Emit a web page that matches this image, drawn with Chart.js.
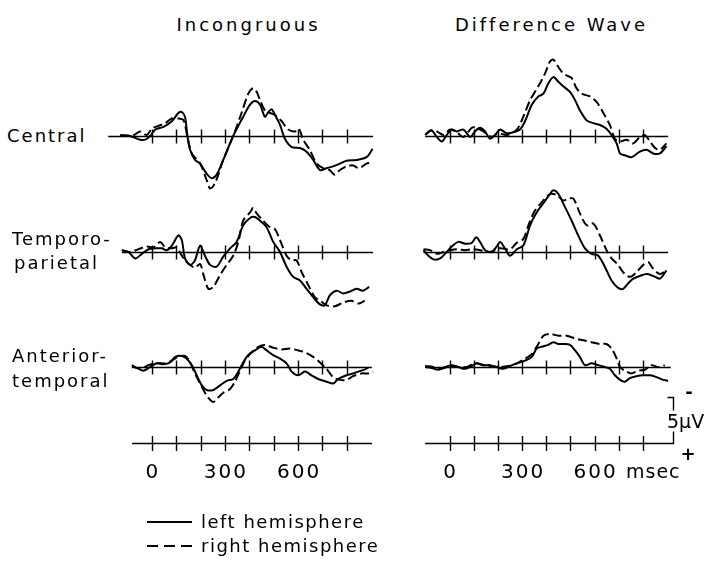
<!DOCTYPE html>
<html><head><meta charset="utf-8">
<script src="https://cdn.jsdelivr.net/npm/chart.js@4/dist/chart.umd.min.js"></script>
<style>
html,body{margin:0;padding:0;background:#fff;}
body{width:714px;height:561px;position:relative;overflow:hidden;font-family:"DejaVu Sans",sans-serif;color:#000;}
canvas{position:absolute;}
.t{position:absolute;white-space:nowrap;line-height:1;}
.c{transform:translate(-50%,-50%);}
.v{transform:translateY(-50%);}
</style></head><body>
<script>
// ---------- DATA (time in ms, amplitude in microvolts; negative plotted up) ----------
const columnTitles = ['Incongruous', 'Difference Wave'];
const rowLabels = [['Central'], ['Temporo-', 'parietal'], ['Anterior-', 'temporal']];
const timeTicksMs = [0, 100, 200, 300, 400, 500, 600, 700, 800];
const timeTickLabels = [0, 300, 600];
const timeUnit = 'msec';
const scaleBarUV = 5;
const legendLabels = ['left hemisphere', 'right hemisphere'];

// Central
const centralIncLeft = [[-130,-0.1],[-89,0],[-48,0.4],[-27,0.4],[-7,0],[14,-0.7],[48,-1.0],[82,-1.6],[109,-2.5],[123,-2.6],[136,-2.1],[146,0],[157,1.5],[177,2.6],[198,3.0],[225,4.1],[246,4.6],[266,4.2],[293,2.6],[334,0],[375,-2.1],[403,-3.4],[423,-3.8],[444,-3.4],[464,-2.1],[478,-2.6],[492,-2.9],[505,-2.3],[526,-1.2],[546,0.3],[574,1.2],[608,1.3],[635,1.7],[662,2.6],[690,3.7],[717,3.5],[744,3.3],[772,3.0],[799,2.7],[840,2.6],[881,2.3],[906,1.4]];
const centralIncRight = [[-130,0],[-75,-0.1],[-48,-0.5],[-21,-0.1],[0,-0.8],[27,-1.1],[55,-1.4],[82,-1.9],[109,-1.9],[130,-1.7],[146,0.1],[164,1.9],[198,3.0],[225,4.8],[239,5.7],[260,5.1],[293,2.6],[334,0],[368,-2.5],[396,-4.6],[416,-5.2],[430,-4.8],[444,-3.9],[464,-2.8],[485,-2.5],[505,-2.3],[533,-1.6],[560,-0.7],[587,-0.5],[603,-0.8],[621,0.4],[648,1.5],[676,3.0],[703,3.5],[730,3.7],[750,4.2],[772,3.7],[799,3.3],[826,3.2],[850,3.5],[881,3.0],[908,2.8]];
const centralDiffLeft = [[-94,-0.3],[-74,-0.6],[-53,0.1],[-32,0.6],[-12,-0.1],[9,-0.7],[30,-0.5],[57,-0.7],[85,0.1],[105,-0.5],[126,-0.9],[147,-0.5],[167,0.3],[188,-0.1],[209,-0.7],[236,-0.3],[264,-0.4],[291,-0.7],[312,-1.6],[340,-3.4],[367,-4.3],[388,-4.6],[408,-5.7],[429,-6.4],[450,-5.9],[470,-5.4],[498,-4.8],[519,-3.9],[539,-2.8],[567,-1.7],[594,-1.4],[622,-1.2],[649,-0.8],[670,-0.1],[691,0.8],[705,1.9],[725,2.1],[752,2.3],[787,1.7],[815,1.5],[842,1.9],[870,1.9],[897,1.1]];
const centralDiffRight = [[-101,-0.1],[-80,-0.6],[-53,-0.5],[-25,-0.1],[2,-0.7],[30,-0.4],[57,0.1],[92,-0.9],[112,-0.9],[140,-0.5],[174,0.1],[202,-0.3],[236,-0.1],[278,-0.7],[305,-2.1],[333,-3.9],[367,-5.4],[395,-6.8],[415,-8.1],[429,-8.3],[450,-7.5],[470,-6.8],[491,-6.5],[505,-6.3],[525,-5.2],[546,-4.6],[581,-4.3],[608,-3.7],[636,-2.5],[663,-1.2],[684,0.3],[705,0.6],[732,0.4],[760,0.8],[787,0.1],[808,-0.1],[829,0.6],[850,1.3],[870,1.5],[897,0.8]];

// Temporo-parietal
const tpIncLeft = [[-123,-0.2],[-96,0],[-68,0.7],[-41,0.2],[-14,-0.3],[14,-0.4],[41,-0.4],[61,-0.2],[82,-0.7],[109,-1.8],[123,-1.3],[136,0.7],[157,1.4],[177,0.9],[198,-0.7],[218,0.4],[239,1.4],[266,1.6],[293,0.5],[321,-0.4],[348,-1.1],[375,-2.9],[403,-3.7],[423,-3.8],[444,-3.4],[471,-2.7],[498,-1.1],[526,0],[553,1.6],[580,2.7],[608,3.1],[635,4.0],[662,4.9],[690,5.7],[710,5.8],[731,4.7],[758,4.2],[785,4.5],[813,4.3],[840,4.0],[867,4.2],[892,3.8]];
const tpIncRight = [[-123,-0.2],[-89,0],[-55,-0.3],[-21,-0.6],[7,-0.5],[34,-1.1],[55,-0.5],[82,-0.4],[102,-0.5],[123,0.4],[143,1.1],[177,1.7],[198,1.3],[211,2.4],[232,4.0],[252,3.8],[280,2.5],[307,1.4],[334,0.4],[355,-1.1],[375,-3.4],[403,-4.3],[416,-4.8],[430,-4.2],[457,-3.4],[485,-2.7],[505,-2.5],[526,-1.3],[553,0.4],[574,0.9],[594,0.9],[615,2.2],[642,3.6],[669,4.9],[696,5.4],[717,5.8],[751,5.9],[785,5.5],[819,5.3],[847,5.6],[874,5.3]];
const tpDiffLeft = [[-108,-0.2],[-88,0.4],[-67,0.8],[-39,0.7],[-12,0],[9,-0.6],[36,-1.1],[64,-0.9],[92,-1.0],[110,-1.6],[126,-1.1],[147,-0.2],[174,0],[195,-0.6],[209,-1.1],[229,-0.4],[250,0.4],[278,-0.3],[305,-0.7],[333,-2.9],[360,-4.3],[388,-5.3],[415,-6.3],[429,-6.7],[450,-6.3],[477,-4.9],[505,-3.4],[532,-1.8],[560,-0.4],[587,0.2],[615,0.4],[642,1.6],[670,3.1],[697,3.9],[718,4.0],[739,3.4],[760,2.9],[787,2.6],[815,2.4],[842,2.6],[870,2.9],[897,2.0]];
const tpDiffRight = [[-108,-0.3],[-81,-0.2],[-53,0.2],[-25,0],[2,-0.2],[30,-0.3],[64,-0.2],[92,-0.3],[126,-0.2],[167,0],[209,-0.4],[250,-0.3],[278,-1.0],[305,-1.4],[326,-2.9],[353,-4.5],[381,-5.4],[415,-6.3],[443,-6.2],[470,-5.6],[491,-5.8],[512,-5.8],[539,-4.2],[567,-2.9],[594,-3.1],[622,-1.8],[649,-0.2],[670,0.7],[697,1.4],[718,2.2],[746,2.7],[773,2.2],[801,1.4],[822,1.1],[842,1.8],[870,2.4],[897,2.0]];

// Anterior-temporal
const atIncLeft = [[-82,-0.2],[-61,0.1],[-34,0.4],[-7,0],[20,-0.4],[48,-0.3],[75,-0.5],[96,-1.1],[123,-1.2],[143,-0.9],[164,-0.2],[184,0.9],[205,2.0],[225,2.5],[252,2.5],[280,2.0],[307,1.5],[334,1.3],[355,0.5],[375,-0.5],[396,-1.3],[423,-1.8],[450,-2.2],[471,-1.8],[498,-1.3],[526,-0.9],[553,-0.4],[574,0.5],[601,0.9],[628,0.5],[655,0.9],[683,1.3],[717,1.6],[744,1.8],[765,1.3],[799,0.9],[826,0.7],[860,0.4],[888,0.1]];
const atIncRight = [[-82,-0.1],[-48,0.2],[-14,-0.2],[20,-0.4],[55,-0.4],[82,-0.7],[109,-1.1],[136,-1.2],[157,-0.5],[177,0.7],[198,1.8],[225,3.1],[252,3.8],[273,3.3],[293,2.8],[321,2.4],[341,1.6],[362,0.4],[382,-0.7],[409,-1.6],[437,-2.2],[464,-2.4],[498,-2.1],[533,-1.9],[567,-2.0],[601,-1.8],[628,-1.6],[662,-1.1],[690,-0.5],[717,0.2],[744,1.1],[772,1.4],[799,1.4],[826,1.0],[860,0.7],[888,0.7],[908,0.5]];
const atDiffLeft = [[-101,0],[-74,0.1],[-46,0.3],[-19,0],[9,-0.2],[36,0],[64,0.2],[92,-0.1],[112,-0.4],[140,-0.2],[167,-0.2],[195,0],[223,0.2],[250,-0.1],[278,-0.4],[312,-0.7],[340,-1.1],[360,-2.0],[381,-2.2],[408,-2.4],[429,-2.7],[450,-2.5],[470,-2.5],[498,-2.4],[519,-1.8],[539,-1.1],[560,-0.2],[587,-0.4],[615,-0.2],[642,0],[663,0.2],[684,0.9],[705,1.4],[725,1.6],[746,1.2],[773,1.0],[801,0.9],[829,0.9],[856,1.1],[884,1.4],[904,1.5]];
const atDiffRight = [[-101,-0.1],[-67,0],[-32,0.2],[2,-0.1],[36,0],[71,0],[105,-0.4],[140,-0.2],[174,-0.1],[209,0],[243,-0.1],[278,-0.4],[312,-0.9],[340,-1.4],[367,-2.5],[388,-3.4],[415,-3.6],[450,-3.4],[484,-3.4],[519,-3.1],[553,-2.9],[587,-2.7],[622,-2.5],[649,-2.5],[670,-2.0],[688,-1.1],[705,0],[725,0.4],[752,0.7],[780,0.4],[808,0.3],[835,-0.2],[863,0],[890,-0.2]];

const panelSeries = [
  [[centralIncLeft, centralIncRight], [centralDiffLeft, centralDiffRight]],
  [[tpIncLeft, tpIncRight], [tpDiffLeft, tpDiffRight]],
  [[atIncLeft, atIncRight], [atDiffLeft, atDiffRight]]
];

// ---------- LAYOUT ----------
const COLS = [
  {left: 108, width: 268, xMin: -180, pxPerMs: 268 / 1100},
  {left: 423, width: 272, xMin: -110, pxPerMs: 249 / 1030}
];
COLS.forEach(c => { c.xMax = c.xMin + c.width / c.pxPerMs; });
const ROW_BASE = [136, 252, 367];
const AXIS_BASE = 443;
const PX_PER_UV = 9.2, Y_HALF = 10;
const BASE_EXTENT = [
  [[-179, 908], [-101, 904]],
  [[-123, 908], [-108, 904]],
  [[-82, 903], [-101, 915]]
];
const AXIS_EXTENT = [[-81, 904], [-101, 924]];
const SCALE_BAR_MS = 924;

const erpAxis = {
  id: 'erpAxis',
  beforeDatasetsDraw(chart, args, o) {
    const {ctx, scales: {x, y}} = chart;
    const y0 = Math.round(y.getPixelForValue(0)) + 0.5;
    ctx.save();
    ctx.strokeStyle = '#000';
    ctx.lineWidth = 1.4;
    ctx.setLineDash([]);
    ctx.beginPath();
    ctx.moveTo(x.getPixelForValue(o.from), y0);
    ctx.lineTo(x.getPixelForValue(o.to), y0);
    timeTicksMs.forEach(t => {
      const px = Math.round(x.getPixelForValue(t)) + 0.5;
      ctx.moveTo(px, y0 - o.tick);
      ctx.lineTo(px, y0 + o.tick);
    });
    if (o.bar) {
      const xb = Math.round(x.getPixelForValue(SCALE_BAR_MS)) + 0.5;
      const yTop = Math.round(y.getPixelForValue(-scaleBarUV)) + 0.5;
      ctx.moveTo(x.getPixelForValue(o.to), y0);
      ctx.lineTo(xb, y0);
      ctx.lineTo(xb, yTop);
      ctx.lineTo(xb - 6, yTop);
    }
    ctx.stroke();
    ctx.restore();
  }
};

function ds(pairs, dashed) {
  return {
    data: pairs.map(p => ({x: p[0], y: p[1]})),
    borderColor: '#000', borderWidth: 2,
    borderDash: dashed ? [9, 4] : [],
    pointRadius: 0, tension: 0.3, fill: false
  };
}

function makeChart(col, baseY, datasets, extent, tick, bar) {
  const H = Math.round(2 * Y_HALF * PX_PER_UV);
  const c = document.createElement('canvas');
  c.width = col.width; c.height = H;
  c.style.left = col.left + 'px';
  c.style.top = Math.round(baseY - Y_HALF * PX_PER_UV) + 'px';
  c.style.width = col.width + 'px'; c.style.height = H + 'px';
  document.body.appendChild(c);
  return new Chart(c, {
    type: 'line',
    data: {datasets},
    options: {
      responsive: false, animation: false, events: [],
      layout: {padding: 0},
      plugins: {legend: {display: false}, tooltip: {enabled: false},
        erpAxis: {from: extent[0], to: extent[1], tick: tick, bar: bar}},
      scales: {
        x: {type: 'linear', min: col.xMin, max: col.xMax, display: false},
        y: {type: 'linear', min: -Y_HALF, max: Y_HALF, reverse: true, display: false}
      }
    },
    plugins: [erpAxis]
  });
}

function addText(txt, x, y, cls, css) {
  const d = document.createElement('div');
  d.className = 't ' + cls;
  d.textContent = txt;
  d.style.left = x + 'px'; d.style.top = y + 'px';
  Object.assign(d.style, css || {});
  document.body.appendChild(d);
  return d;
}

// panels
panelSeries.forEach((row, r) => {
  row.forEach((pair, k) => {
    makeChart(COLS[k], ROW_BASE[r], [ds(pair[0], false), ds(pair[1], true)], BASE_EXTENT[r][k], 7, false);
  });
});
// bottom time axes
const axisCharts = COLS.map((col, k) => makeChart(col, AXIS_BASE, [], AXIS_EXTENT[k], 7.5, k === 1));

// texts
const titleCss = {fontSize: '18px', letterSpacing: '3px', paddingLeft: '3px'};
addText(columnTitles[0], 247, 25, 'c', titleCss);
addText(columnTitles[1], 550, 25, 'c', titleCss);

const rowCss = {fontSize: '18px', letterSpacing: '2px'};
const rowLabelY = [[136], [239, 263], [356, 381]];
const rowLabelX = [[7], [12, 14], [12, 12]];
rowLabels.forEach((lines, r) => lines.forEach((s, i) => addText(s, rowLabelX[r][i], rowLabelY[r][i], 'v', rowCss)));

const numCss = {fontSize: '20px', letterSpacing: '2px', paddingLeft: '2px'};
axisCharts.forEach((ch, k) => {
  timeTickLabels.forEach(v => {
    const px = COLS[k].left + ch.scales.x.getPixelForValue(v);
    addText(String(v), px, 471, 'c', numCss);
  });
});
addText(timeUnit, 626, 471, 'v', {fontSize: '19px', letterSpacing: '1px'});
addText(scaleBarUV + 'μV', 667, 421, 'v', {fontSize: '19px', background: '#fff', paddingTop: '1px', paddingBottom: '1px'});
addText('-', 689, 392, 'c', {fontSize: '18px', fontWeight: 'bold'});
addText('+', 688, 454, 'c', {fontSize: '18px', fontWeight: 'bold'});

// legend
const legY = [522, 546];
const solid = document.createElement('div');
Object.assign(solid.style, {position: 'absolute', left: '147px', top: (legY[0] - 1) + 'px', width: '45px', height: '2px', background: '#000'});
document.body.appendChild(solid);
const dashed = document.createElement('div');
Object.assign(dashed.style, {position: 'absolute', left: '147px', top: (legY[1] - 1) + 'px', width: '45px', height: '2px',
  background: 'repeating-linear-gradient(90deg,#000 0 11px,transparent 11px 17px)'});
document.body.appendChild(dashed);
const legCss = {fontSize: '18px', letterSpacing: '1.5px'};
addText(legendLabels[0], 201, legY[0], 'v', legCss);
addText(legendLabels[1], 201, legY[1], 'v', legCss);
</script>
</body></html>
